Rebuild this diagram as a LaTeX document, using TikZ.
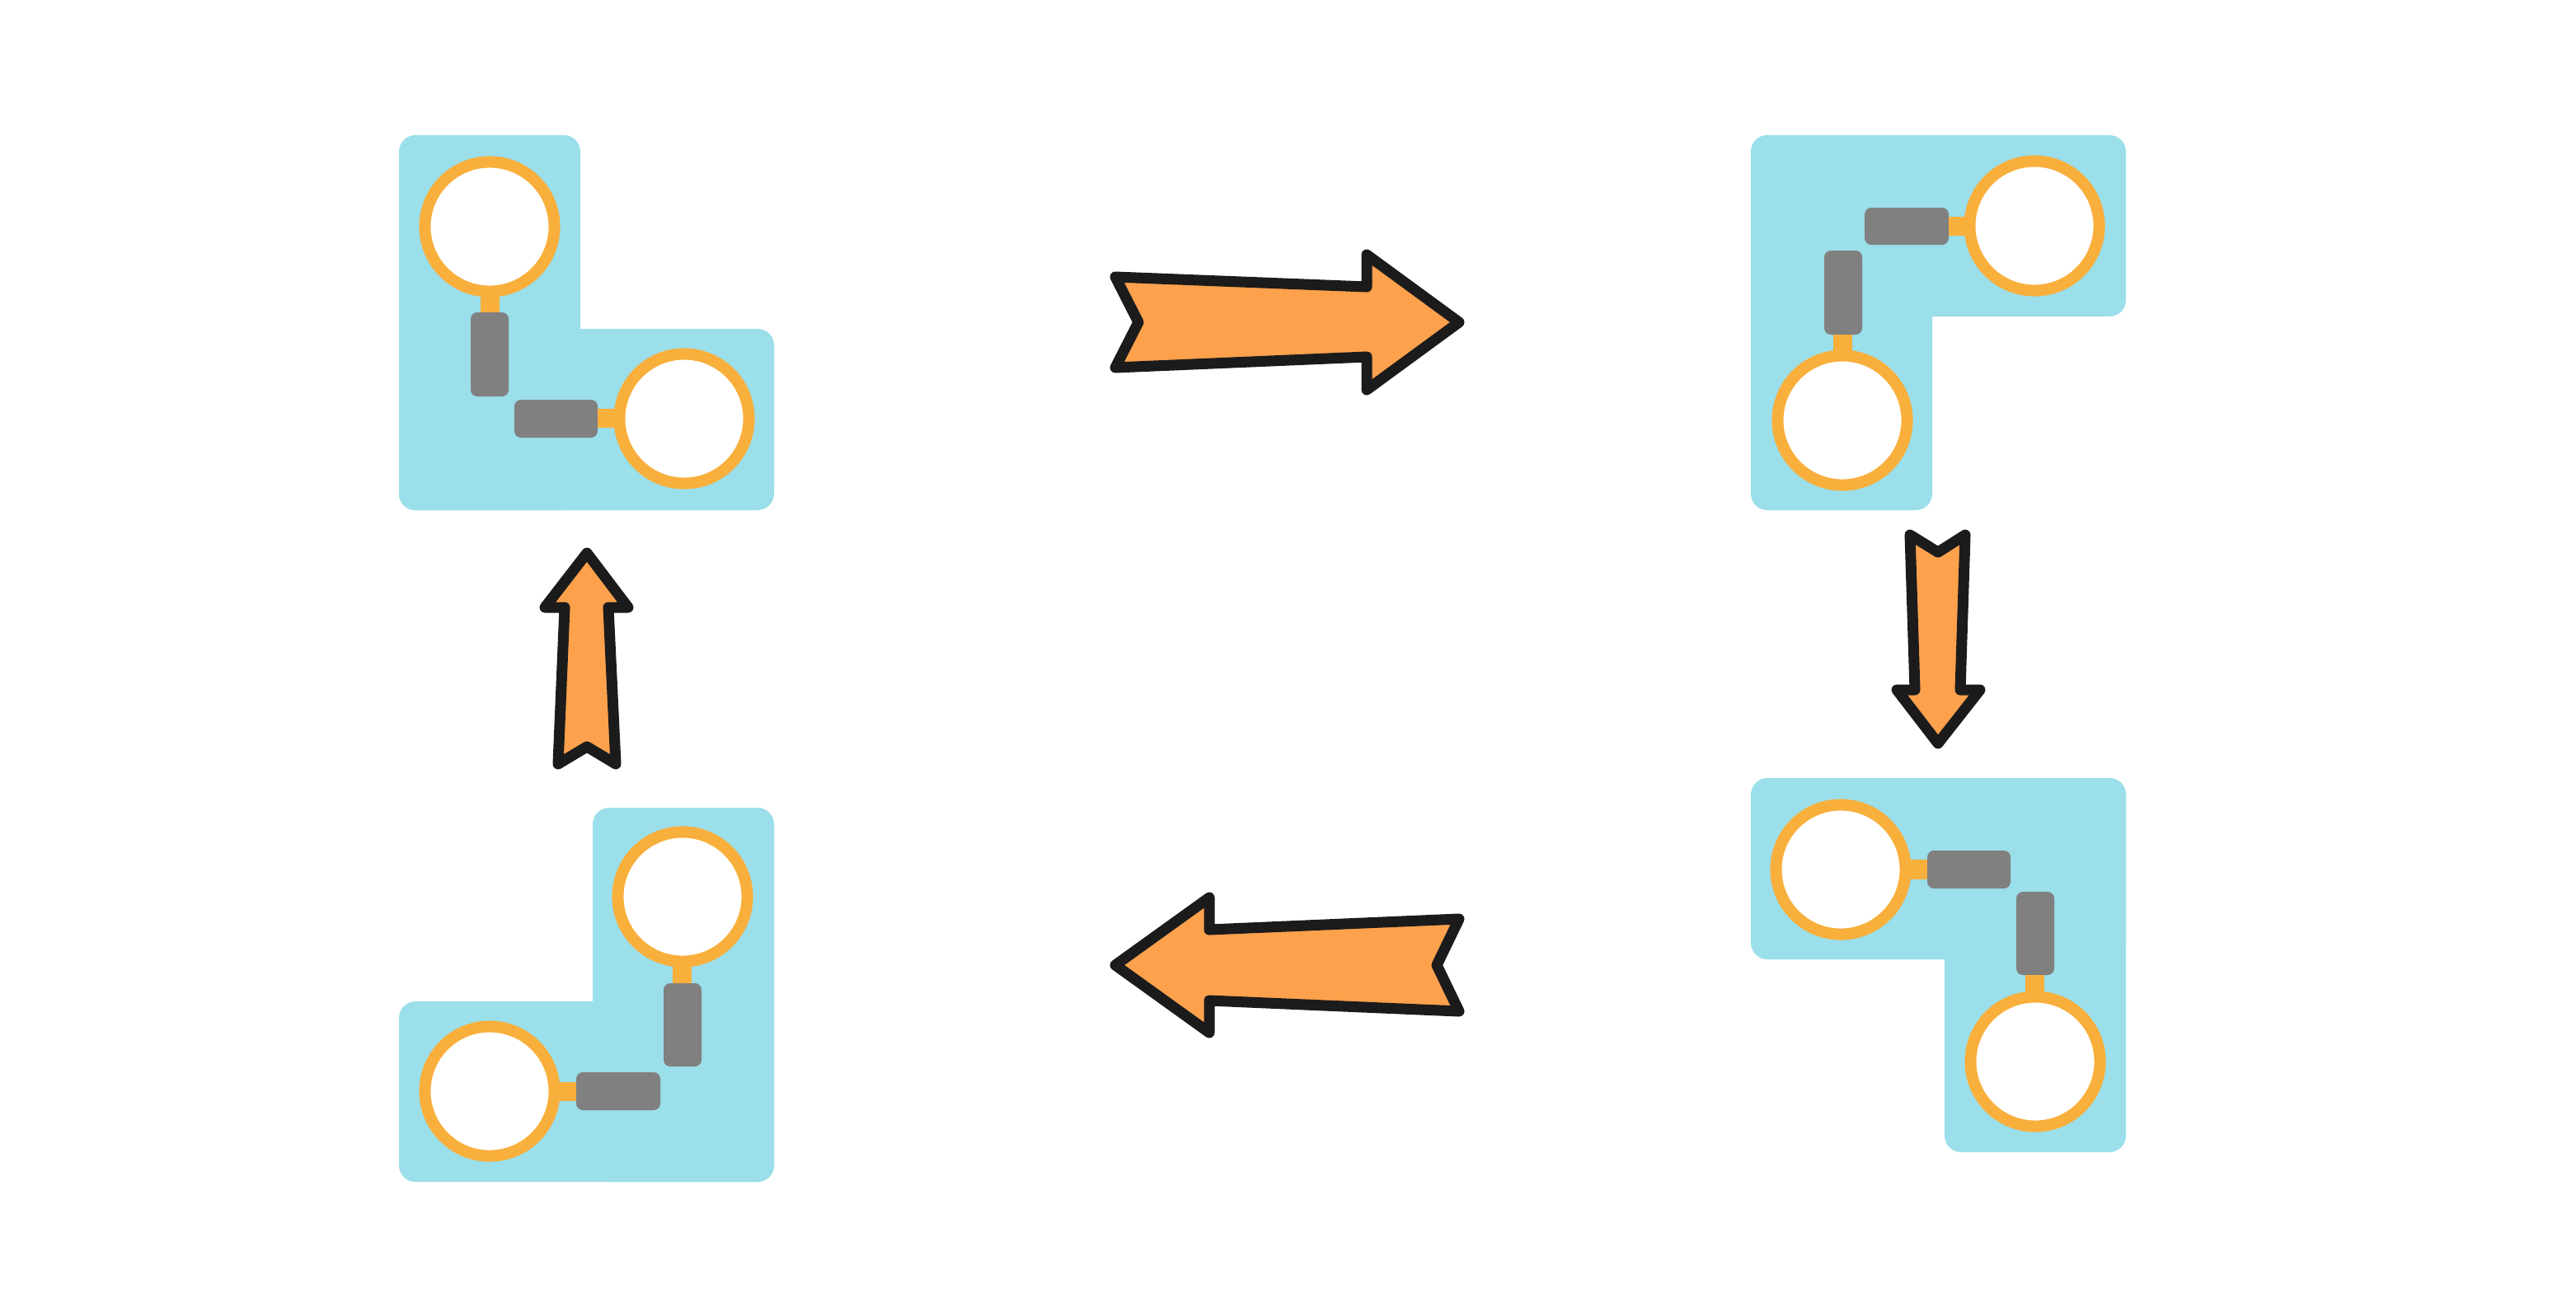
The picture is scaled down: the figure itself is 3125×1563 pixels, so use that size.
\documentclass[tikz,border=0pt]{standalone}
\definecolor{panelblue}{HTML}{9BDFEA}
\definecolor{ringorange}{HTML}{F9AF3C}
\definecolor{bargray}{HTML}{808080}
\definecolor{arroworange}{HTML}{FDA14D}
\definecolor{arrowblack}{HTML}{1B1B1B}
\tikzset{
  panel/.style={fill=panelblue, rounded corners=0.2cm},
  ring/.style={draw=ringorange, line width=0.14cm, fill=white},
  bar/.style={fill=bargray, rounded corners=0.08cm},
  tab/.style={fill=ringorange},
  bigarrow/.style={fill=arroworange, draw=arrowblack, line width=0.13cm, line join=round},
}
\begin{document}
\begin{tikzpicture}[x=0.01cm,y=-0.01cm]
\useasboundingbox[fill=white] (0,0) rectangle (3125,1563);

% ---- top-left panel ----
\fill[panel] (484,164) rectangle (704,619);
\fill[panel] (484,399) rectangle (939,619);
\fill[tab] (583,358) rectangle (606,379);
\fill[bar] (571,379) rectangle (617,481);
\fill[bar] (624,485) rectangle (725,531);
\fill[tab] (725,496) rectangle (748,519);
\draw[ring] (594,275) circle[radius=0.785cm];
\draw[ring] (830,508) circle[radius=0.785cm];

% ---- top-right panel ----
\fill[panel] (2124,164) rectangle (2579,384);
\fill[panel] (2124,164) rectangle (2344,619);
\fill[bar] (2262,252) rectangle (2364,297);
\fill[tab] (2364,263) rectangle (2387,286);
\fill[bar] (2213,304) rectangle (2259,406);
\fill[tab] (2224,406) rectangle (2247,428);
\draw[ring] (2468,274) circle[radius=0.785cm];
\draw[ring] (2235,510) circle[radius=0.785cm];

% ---- bottom-left panel ----
\fill[panel] (719,980) rectangle (939,1434);
\fill[panel] (484,1215) rectangle (939,1434);
\fill[tab] (816,1170) rectangle (839,1193);
\fill[bar] (805,1193) rectangle (851,1294);
\fill[bar] (699,1301) rectangle (801,1347);
\fill[tab] (676,1313) rectangle (699,1336);
\draw[ring] (828,1088) circle[radius=0.785cm];
\draw[ring] (594,1324) circle[radius=0.785cm];

% ---- bottom-right panel ----
\fill[panel] (2124,944) rectangle (2579,1164);
\fill[panel] (2359,944) rectangle (2579,1398);
\fill[tab] (2314,1043) rectangle (2338,1067);
\fill[bar] (2338,1032) rectangle (2439,1078);
\fill[bar] (2446,1082) rectangle (2492,1183);
\fill[tab] (2457,1183) rectangle (2480,1205);
\draw[ring] (2233,1055) circle[radius=0.785cm];
\draw[ring] (2469,1288) circle[radius=0.785cm];

% ---- arrows ----
% right
\draw[bigarrow] (1353,336) -- (1381,391) -- (1353,446) -- (1658,433) -- (1658,473)
  -- (1770,391) -- (1658,309) -- (1658,348) -- cycle;
% down
\draw[bigarrow] (2317,649) -- (2351,670) -- (2384,649) -- (2378,837) -- (2402,837)
  -- (2351,902) -- (2301,837) -- (2323,837) -- cycle;
% left
\draw[bigarrow] (1353,1171) -- (1467,1089) -- (1467,1128) -- (1770,1115) -- (1743,1171)
  -- (1770,1227) -- (1467,1214) -- (1467,1253) -- cycle;
% up
\draw[bigarrow] (712,671) -- (762,737) -- (738,737) -- (747,927) -- (712,906)
  -- (677,927) -- (685,737) -- (661,737) -- cycle;
\end{tikzpicture}
\end{document}
